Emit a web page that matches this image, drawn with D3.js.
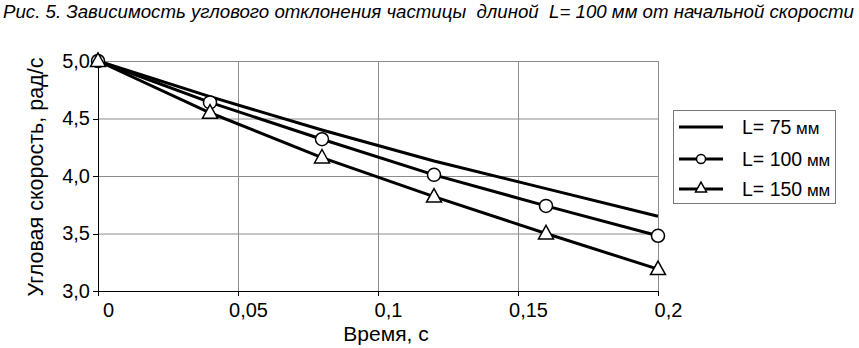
<!DOCTYPE html>
<html>
<head>
<meta charset="utf-8">
<script src="https://cdn.jsdelivr.net/npm/d3@7"></script>
<style>
  body { margin: 0; background: #fff; }
  svg { display: block; font-family: "Liberation Sans", Arial, sans-serif; }
  .grid line { stroke: #8c8c8c; stroke-width: 1; }
  .grid path { display: none; }
  .axis path, .axis line { stroke: #000; stroke-width: 1; shape-rendering: crispEdges; }
  .axis text { font-size: 20px; fill: #000; font-family: "Liberation Sans", Arial, sans-serif; }
</style>
</head>
<body>
<div class="chart"></div>
<script>
// data
const times = [0, 0.04, 0.08, 0.12, 0.16, 0.2];
const l75 = [5.0, 4.69, 4.40, 4.13, 3.89, 3.65];
const l100 = [5.0, 4.64, 4.32, 4.01, 3.74, 3.48];
const l150 = [5.0, 4.55, 4.16, 3.82, 3.50, 3.19];
const seriesNames = ['L= 75 мм', 'L= 100 мм', 'L= 150 мм'];
const xTicks = [0, 0.05, 0.1, 0.15, 0.2];
const xTickLabels = ['0', '0,05', '0,1', '0,15', '0,2'];
const yTicks = [3.0, 3.5, 4.0, 4.5, 5.0];
const yTickLabels = ['3,0', '3,5', '4,0', '4,5', '5,0'];

const width = 859, height = 348;
const margin = { top: 61, right: 201, bottom: 57, left: 98 };
const w = width - margin.left - margin.right;
const h = height - margin.top - margin.bottom;

const svg = d3.select('.chart').append('svg')
    .attr('width', width)
    .attr('height', height);

/* Title */
svg.append('text')
    .attr('x', 3)
    .attr('y', 18)
    .attr('textLength', 851)
    .attr('lengthAdjust', 'spacingAndGlyphs')
    .style('white-space', 'pre')
    .style('font-family', '"Liberation Sans Narrow", "Liberation Sans", Arial, sans-serif')
    .style('font-style', 'italic')
    .style('font-size', '18.5px')
    .attr('fill', '#000')
    .text('Рис. 5. Зависимость углового отклонения частицы  длиной  L= 100 мм от начальной скорости');

const g = svg.append('g')
    .attr('transform', `translate(${margin.left},${margin.top})`);

/* Scale */
var xScale = d3.scaleLinear().domain([0, 0.2]).range([0, w]);
var yScale = d3.scaleLinear().domain([3, 5]).range([h, 0]);

/* Grid */
g.append('g')
    .attr('class', 'grid')
    .call(d3.axisLeft(yScale).tickValues(yTicks.slice(1)).tickSize(-w).tickFormat(''));
g.append('g')
    .attr('class', 'grid')
    .attr('transform', `translate(0,${h})`)
    .call(d3.axisBottom(xScale).tickValues(xTicks.slice(1)).tickSize(-h).tickFormat(''));

/* Axis */
g.append('g')
    .attr('class', 'x axis')
    .attr('transform', `translate(0,${h})`)
    .call(d3.axisBottom(xScale).tickValues(xTicks).tickSize(5).tickSizeOuter(0)
        .tickFormat((d, i) => xTickLabels[i]))
    .selectAll('text')
    .attr('dx', 10)
    .attr('y', 12);

g.append('g')
    .attr('class', 'y axis')
    .call(d3.axisLeft(yScale).tickValues(yTicks).tickSize(5).tickSizeOuter(0)
        .tickFormat((d, i) => yTickLabels[i]))
    .selectAll('text')
    .attr('x', -8);

g.select('.x.axis path').attr('d', `M0,0H${w}`);
g.select('.y.axis path').attr('d', `M0,${h}V0`);

/* Axis titles */
svg.append('text')
    .attr('x', 386)
    .attr('y', 341)
    .attr('text-anchor', 'middle')
    .style('font-size', '21px')
    .attr('fill', '#000')
    .text('Время, с');

svg.append('text')
    .attr('transform', 'translate(43,177) rotate(-90)')
    .attr('text-anchor', 'middle')
    .style('font-size', '21.5px')
    .attr('fill', '#000')
    .text('Угловая скорость, рад/с');

/* Lines */
const series = [l75, l100, l150].map((vals, i) => ({
    name: seriesNames[i],
    values: times.map((t, j) => ({ t: t, v: vals[j] }))
}));

var line = d3.line()
    .x(d => xScale(d.t))
    .y(d => yScale(d.v));

g.selectAll('.line')
    .data(series).enter()
    .append('path')
    .attr('class', 'line')
    .attr('d', d => line(d.values))
    .attr('fill', 'none')
    .attr('stroke', '#000')
    .attr('stroke-width', 3);

const tri = (cx, cy, s) => {
    const hh = s * 0.9;
    return `M${cx},${cy - hh * 0.6}L${cx + s / 2},${cy + hh * 0.4}L${cx - s / 2},${cy + hh * 0.4}Z`;
};

g.selectAll('.circle')
    .data(series[1].values).enter()
    .append('circle')
    .attr('class', 'circle')
    .attr('cx', d => xScale(d.t))
    .attr('cy', d => yScale(d.v))
    .attr('r', 6.5)
    .attr('fill', '#fff')
    .attr('stroke', '#000')
    .attr('stroke-width', 1.5);

g.selectAll('.tri')
    .data(series[2].values).enter()
    .append('path')
    .attr('class', 'tri')
    .attr('d', d => tri(xScale(d.t), yScale(d.v), 15))
    .attr('fill', '#fff')
    .attr('stroke', '#000')
    .attr('stroke-width', 1.5);

/* Legend */
const legend = svg.append('g').attr('transform', 'translate(673,110)');
legend.append('rect')
    .attr('x', 0.5).attr('y', 0.5)
    .attr('width', 162).attr('height', 93)
    .attr('fill', '#fff')
    .attr('stroke', '#777')
    .attr('stroke-width', 1);

const rows = [17, 49, 79];
series.forEach((s, i) => {
    const row = legend.append('g').attr('transform', `translate(0,${rows[i]})`);
    row.append('line')
        .attr('x1', 6).attr('x2', 50)
        .attr('stroke', '#000').attr('stroke-width', 3);
    if (i === 1) {
        row.append('circle').attr('cx', 28).attr('r', 4.5)
            .attr('fill', '#fff').attr('stroke', '#000').attr('stroke-width', 1.5);
    }
    if (i === 2) {
        row.append('path').attr('d', tri(28, -1, 11))
            .attr('fill', '#fff').attr('stroke', '#000').attr('stroke-width', 1.5);
    }
    const txt = row.append('text')
        .attr('x', 69).attr('y', 7)
        .style('font-size', '19.5px')
        .attr('fill', '#000');
    const parts = s.name.split(' мм');
    txt.append('tspan').text(parts[0]);
    txt.append('tspan').style('font-size', '17px').text(' мм');
});
</script>
</body>
</html>
